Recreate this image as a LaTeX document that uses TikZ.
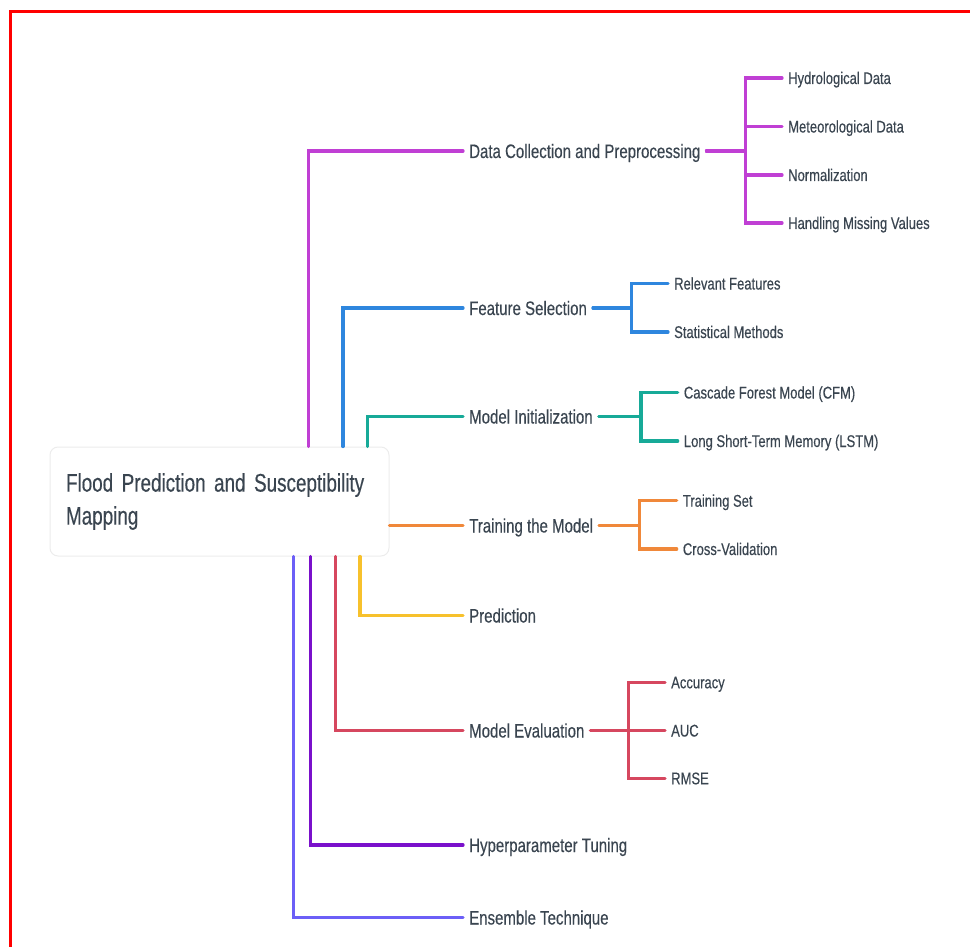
\documentclass[tikz,border=0pt]{standalone}
\usepackage{fontspec}
\setmainfont{Liberation Sans}[FakeStretch=0.77,FakeBold=0.35]
\newfontfamily\titlefont{Liberation Sans}[FakeStretch=0.74,FakeBold=0.35]
\definecolor{txt}{HTML}{3A4550}
\definecolor{cmag}{HTML}{C03FD4}
\definecolor{cblue}{HTML}{2E86DE}
\definecolor{cteal}{HTML}{17AA98}
\definecolor{corange}{HTML}{F0883A}
\definecolor{cyellow}{HTML}{F7C12C}
\definecolor{cred}{HTML}{D6475F}
\definecolor{cpurple}{HTML}{7A10CB}
\definecolor{cviolet}{HTML}{6C5FF7}
\definecolor{boxline}{HTML}{ECECEC}
\tikzset{
  lbl/.style={anchor=west, inner xsep=6pt, inner ysep=0pt, text height=14pt, text depth=0pt,
    font=\fontsize{19.5}{24}\selectfont, text=txt},
  sublbl/.style={lbl, text height=12pt, font=\fontsize{16.9}{20}\selectfont},
  conn/.style={line width=3.2pt, line cap=round, line join=miter},
  rootbox/.style={draw=boxline, line width=1pt, fill=white, rounded corners=8pt,
    minimum width=339pt, minimum height=109pt, inner xsep=16pt, text width=307pt,
    align=left, text=txt, font=\titlefont\fontsize{25.5}{33}\selectfont},
}
\begin{document}
\begin{tikzpicture}[x=1pt,y=-1pt]
\useasboundingbox (0,0) rectangle (970,947);
% frame
\draw[red, line width=3pt] (970,12) -- (10,12) -- (10,947);

% root
\node[rootbox] (root) at (219.5,501.5) {\mbox{Flood Prediction and Susceptibility}\\\mbox{Mapping}};

% first-level labels
\node[lbl] (dc) at (463,151) {Data Collection and Preprocessing};
\node[lbl] (fs) at (463,308) {Feature Selection};
\node[lbl] (mi) at (463,416.5) {Model Initialization};
\node[lbl] (tr) at (463,525.5) {Training the Model};
\node[lbl] (pr) at (463,615.5) {Prediction};
\node[lbl] (me) at (463,730.5) {Model Evaluation};
\node[lbl] (ht) at (463,845) {Hyperparameter Tuning};
\node[lbl] (et) at (463,917.5) {Ensemble Technique};

% root connectors
\draw[conn, cmag] (root.north west) ++(259,0) |- (dc.west);
\draw[conn, cblue] (root.north west) ++(293.5,0) |- (fs.west);
\draw[conn, cteal] (root.north west) ++(318,0) |- (mi.west);
\draw[conn, corange] (root.east |- tr.west) -- (tr.west);
\draw[conn, cyellow] (root.south west) ++(310.5,0) |- (pr.west);
\draw[conn, cred] (root.south west) ++(286,0) |- (me.west);
\draw[conn, cpurple] (root.south west) ++(261,0) |- (ht.west);
\draw[conn, cviolet] (root.south west) ++(244,0) |- (et.west);

% Data collection children
\node[sublbl] (dc1) at (782,78) {Hydrological Data};
\node[sublbl] (dc2) at (782,126.5) {Meteorological Data};
\node[sublbl] (dc3) at (782,175) {Normalization};
\node[sublbl] (dc4) at (782,223) {Handling Missing Values};
\coordinate (jdc) at (745.7,151);
\foreach \c in {dc1,dc2,dc3,dc4}{\draw[conn, cmag] (dc.east) -- (jdc) |- (\c.west);}

% Feature selection children
\node[sublbl] (fs1) at (668,283.5) {Relevant Features};
\node[sublbl] (fs2) at (668,332) {Statistical Methods};
\coordinate (jfs) at (631.7,308);
\foreach \c in {fs1,fs2}{\draw[conn, cblue] (fs.east) -- (jfs) |- (\c.west);}

% Model initialization children
\node[sublbl] (mi1) at (677.7,392.5) {Cascade Forest Model (CFM)};
\node[sublbl] (mi2) at (677.7,441) {Long Short-Term Memory (LSTM)};
\coordinate (jmi) at (641,416.5);
\foreach \c in {mi1,mi2}{\draw[conn, cteal] (mi.east) -- (jmi) |- (\c.west);}

% Training children
\node[sublbl] (tr1) at (676.7,500.7) {Training Set};
\node[sublbl] (tr2) at (676.7,549) {Cross-Validation};
\coordinate (jtr) at (639.3,525.5);
\foreach \c in {tr1,tr2}{\draw[conn, corange] (tr.east) -- (jtr) |- (\c.west);}

% Model evaluation children
\node[sublbl] (me1) at (665,682.3) {Accuracy};
\node[sublbl] (me2) at (665,730.5) {AUC};
\node[sublbl] (me3) at (665,778.3) {RMSE};
\coordinate (jme) at (628.3,730.5);
\foreach \c in {me1,me2,me3}{\draw[conn, cred] (me.east) -- (jme) |- (\c.west);}
\end{tikzpicture}
\end{document}
